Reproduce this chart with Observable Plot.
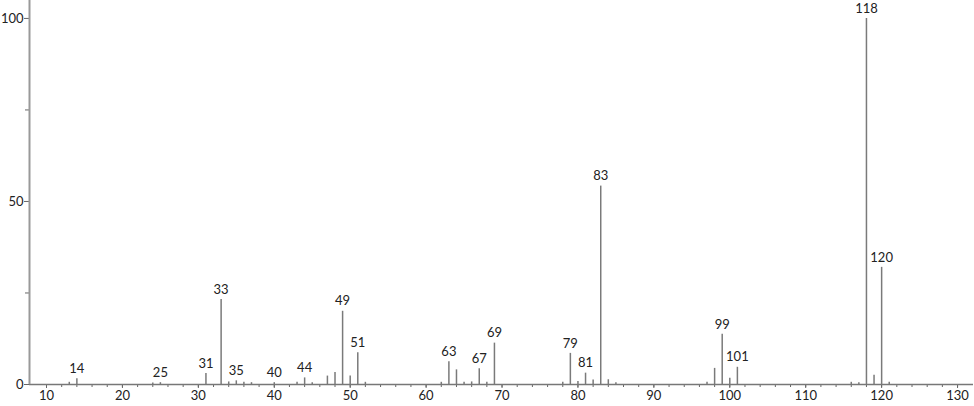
<!DOCTYPE html>
<html>
<head>
<meta charset="utf-8">
<script src="https://cdn.jsdelivr.net/npm/d3@7"></script>
<script src="https://cdn.jsdelivr.net/npm/@observablehq/plot@0.6"></script>
<style>
  html, body { margin: 0; padding: 0; background: #fff; }
  #chart svg { display: block; }
</style>
</head>
<body>
<div id="chart"></div>
<script>
// m/z values of the peaks
const mz = [13, 14, 24, 25, 31, 33, 34, 35, 36, 37, 40, 43, 44, 45, 47, 48, 49, 50, 51, 52,
            62, 63, 64, 65, 66, 67, 68, 69, 78, 79, 80, 81, 82, 83, 84, 85,
            97, 98, 99, 100, 101, 116, 117, 118, 119, 120, 121];
// relative intensities
const intensity = [0.6, 1.6, 0.4, 0.5, 3.0, 23.2, 0.7, 1.0, 0.6, 0.5, 0.5, 0.6, 1.8, 0.5, 2.3, 3.3, 20.0, 2.3, 8.7, 0.6,
                   0.6, 6.2, 4.0, 0.6, 0.7, 4.3, 0.6, 11.3, 0.6, 8.5, 0.8, 3.1, 1.2, 54.2, 1.3, 0.5,
                   0.6, 4.4, 13.7, 1.7, 4.7, 0.6, 0.5, 100, 2.5, 32.0, 0.6];
// peaks that carry a label
const labeled = [14, 25, 31, 33, 35, 40, 44, 49, 51, 63, 67, 69, 79, 81, 83, 99, 101, 118, 120];

const xMajor = [10, 20, 30, 40, 50, 60, 70, 80, 90, 100, 110, 120, 130];
const xMinor = d3.range(10, 132, 2);
const yMajor = [0, 50, 100];
const yMinor = [25, 75];

const peaks = mz.map((m, i) => ({mz: m, i: intensity[i]}));
const labels = peaks.filter(d => labeled.includes(d.mz));

const chart = Plot.plot({
  width: 974,
  height: 406,
  marginLeft: 29,
  marginRight: 1,
  marginTop: 0,
  marginBottom: 22,
  style: {fontFamily: "Lato, 'DejaVu Sans', sans-serif", fontSize: "13px", color: "#222", background: "#fff"},
  x: {domain: [7.76, 132.1], label: null},
  y: {domain: [0, 104.9], label: null},
  marks: [
    Plot.axisX({ticks: xMinor, tickSize: 3, tickFormat: () => "", stroke: "#666", label: null}),
    Plot.axisX({ticks: xMajor, tickSize: 4, tickPadding: 2, tickFormat: d => d, fontSize: 13, fill: "#222", stroke: "#666", label: null}),
    Plot.axisY({ticks: yMinor, tickSize: 4, tickFormat: () => "", stroke: "#666", label: null}),
    Plot.axisY({ticks: yMajor, tickSize: 5, tickPadding: 1, tickFormat: d => d, fontSize: 13, fill: "#222", stroke: "#666", label: null}),
    Plot.ruleX(peaks, {x: "mz", y1: 0, y2: "i", stroke: "#7a7a7a", strokeWidth: 1.5}),
    Plot.ruleY([0], {stroke: "#777", strokeWidth: 1.5}),
    Plot.ruleX([7.76], {stroke: "#999", strokeWidth: 2}),
    Plot.text(labels, {x: "mz", y: "i", text: d => String(d.mz), dy: -10, fontSize: 13, fill: "#222"})
  ]
});
document.getElementById("chart").appendChild(chart);
</script>
</body>
</html>
